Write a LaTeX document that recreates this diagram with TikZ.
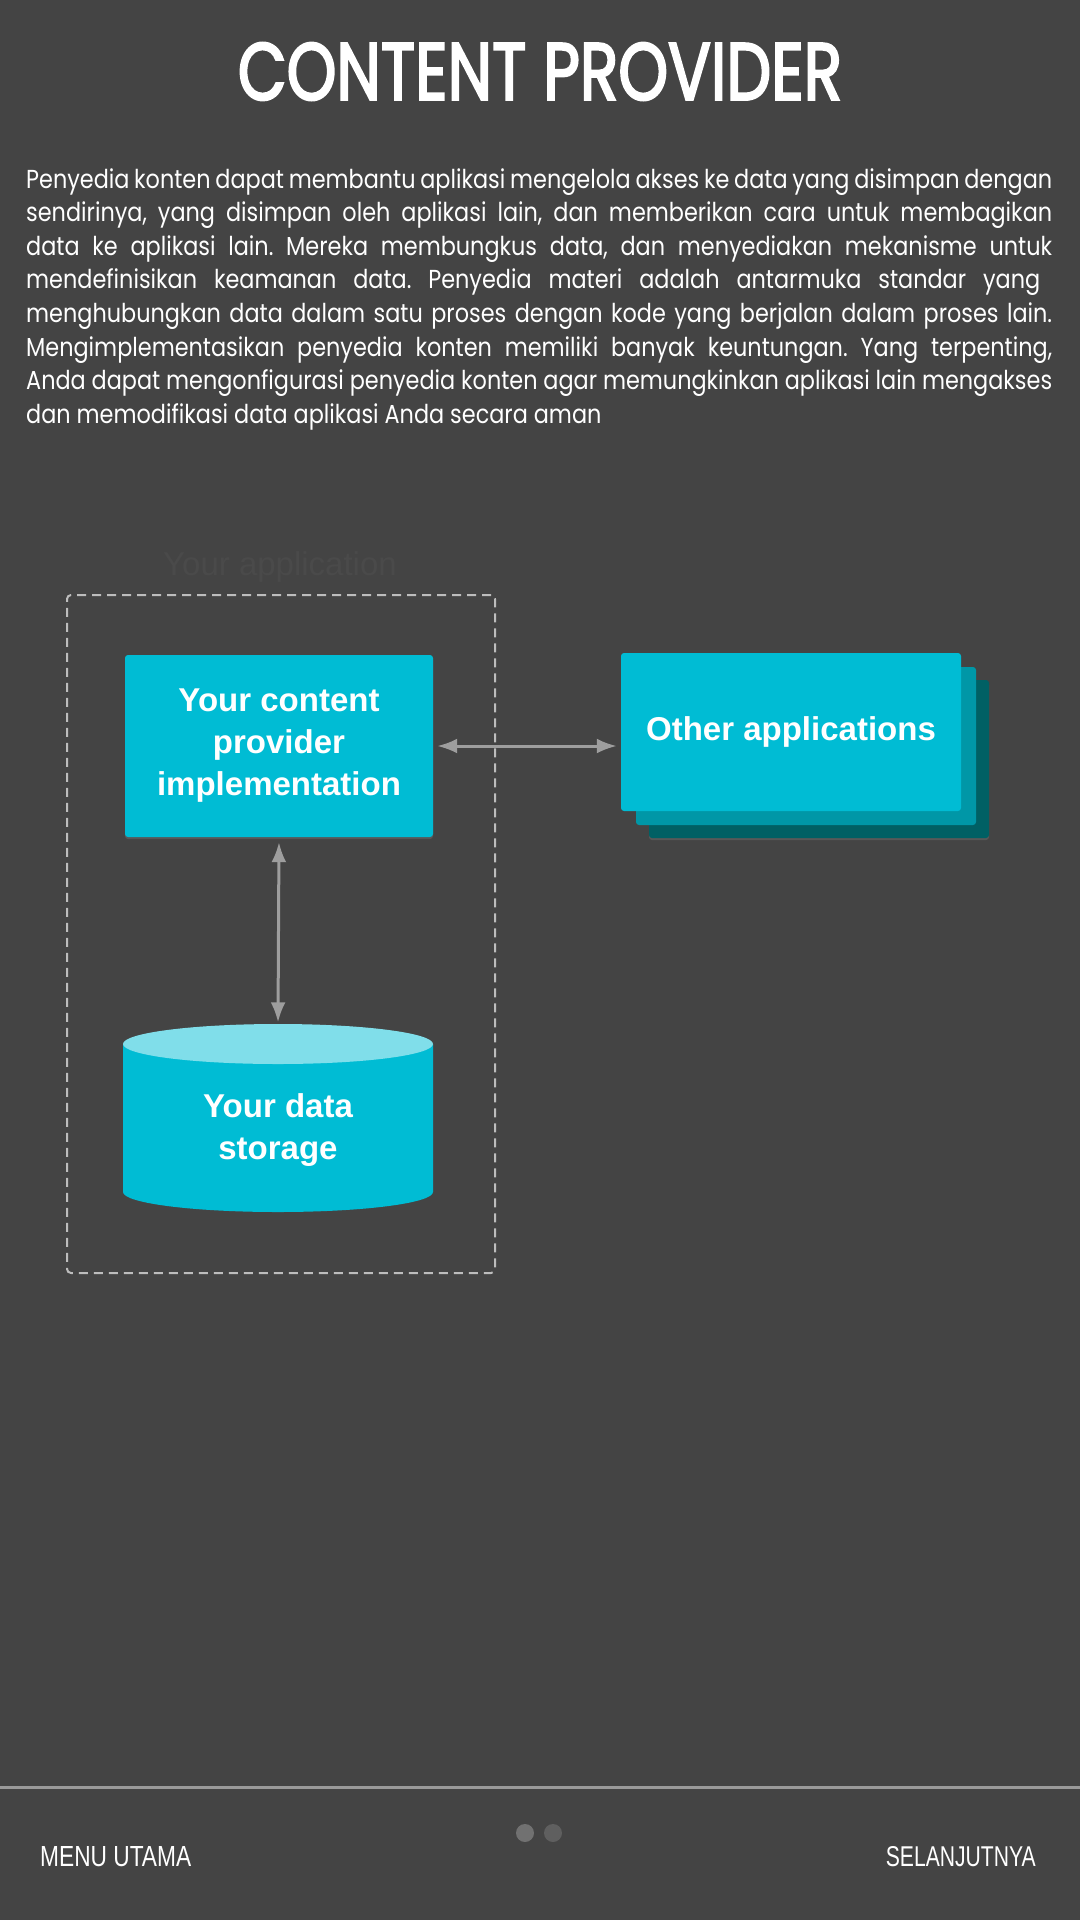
\documentclass[tikz,border=0pt]{standalone}
\usepackage{fontspec}
\usepackage{graphicx}
\usetikzlibrary{arrows.meta,shadows}
\newfontfamily\titlefont[FakeBold=3]{Poppins}
\newfontfamily\parafont[FakeStretch=0.86]{Poppins}
\newfontfamily\boxfont{Liberation Sans}
\definecolor{screenbg}{HTML}{444444}
\definecolor{cyanfront}{HTML}{00BCD4}
\definecolor{cyantop}{HTML}{80DEEA}
\definecolor{tealmid}{HTML}{0097A7}
\definecolor{tealdark}{HTML}{006064}
\definecolor{arrowgray}{HTML}{9E9E9E}
\definecolor{framegray}{HTML}{BDBDBD}
\definecolor{faintgray}{HTML}{4A4A4A}
\definecolor{rulegray}{HTML}{9A9A9A}
\frenchspacing
\tikzset{
  cpbox/.style={rectangle, rounded corners=3pt, fill=cyanfront, text=white, align=center, inner sep=0pt,
    font=\boxfont\bfseries\fontsize{33}{42}\selectfont},
  layerbox/.style={rectangle, rounded corners=3pt, inner sep=0pt, minimum width=340pt, minimum height=158pt},
  link/.style={draw=arrowgray, line width=3pt, {Latex[length=20pt,width=15pt]}-{Latex[length=20pt,width=15pt]}},
  paraline/.style={anchor=base west, inner sep=0pt, text=white, font=\parafont\fontsize{26}{34}\selectfont},
  navtext/.style={inner sep=0pt, text=white, font=\boxfont}
}
\begin{document}
\begin{tikzpicture}[x=1pt, y=-1pt]
\fill[screenbg] (0,0) rectangle (1080,1920);
\useasboundingbox (0,0) rectangle (1080,1920);
% title and text
\node[inner sep=0pt, text=white] (title) at (540,71.5) {\resizebox{604pt}{57pt}{\titlefont CONTENT PROVIDER}};
\node[paraline] (l1) at (26,188) {\makebox[1026pt][s]{Penyedia konten dapat membantu aplikasi mengelola akses ke data yang disimpan dengan}};
\node[paraline] (l2) at (26,221.6) {\makebox[1026pt][s]{sendirinya, yang disimpan oleh aplikasi lain, dan memberikan cara untuk membagikan}};
\node[paraline] (l3) at (26,255.2) {\makebox[1026pt][s]{data ke aplikasi lain. Mereka membungkus data, dan menyediakan mekanisme untuk}};
\node[paraline] (l4) at (26,288.8) {\makebox[1014pt][s]{mendefinisikan keamanan data. Penyedia materi adalah antarmuka standar yang}};
\node[paraline] (l5) at (26,322.4) {\makebox[1026pt][s]{menghubungkan data dalam satu proses dengan kode yang berjalan dalam proses lain.}};
\node[paraline] (l6) at (26,356) {\makebox[1026pt][s]{Mengimplementasikan penyedia konten memiliki banyak keuntungan. Yang terpenting,}};
\node[paraline] (l7) at (26,389.6) {\makebox[1026pt][s]{Anda dapat mengonfigurasi penyedia konten agar memungkinkan aplikasi lain mengakses}};
\node[paraline] (l8) at (26,423.2) {dan memodifikasi data aplikasi Anda secara aman};
% your application
\node[text=faintgray, inner sep=0pt, font=\boxfont\fontsize{33}{40}\selectfont] (applabel) at (280,567) {Your application};
\node[draw=framegray, line width=2pt, dash pattern=on 9pt off 6pt, rounded corners=4pt,
  minimum width=428pt, minimum height=678pt] (app) at (281,934) {};
\node[cpbox, minimum width=308pt, minimum height=182pt,
  drop shadow={opacity=0.35, shadow xshift=0pt, shadow yshift=-2pt}] (cp) at (279,746)
  {Your content\\provider\\implementation};
% data storage cylinder
\node[inner sep=0pt, minimum width=310pt, minimum height=187pt] (store) at (278,1118) {};
\fill[cyanfront] (123,1044) -- (123,1192) arc[start angle=180, end angle=360, x radius=155pt, y radius=20pt] -- (433,1044) -- cycle;
\fill[cyantop] (278,1044) ellipse[x radius=155pt, y radius=20pt];
\node[text=white, align=center, inner sep=0pt, font=\boxfont\bfseries\fontsize{33}{42}\selectfont]
  (storelabel) at ([yshift=-12pt]store.center) {Your data\\storage};
% other applications
\node[layerbox, fill=tealdark, drop shadow={opacity=0.35, shadow xshift=0pt, shadow yshift=-2pt}] (other3) at (819,759) {};
\node[layerbox, fill=tealmid] (other2) at (806,746) {};
\node[cpbox, minimum width=340pt, minimum height=158pt] (other) at (791,732) {Other applications};
% connectors
\draw[link, shorten <=4pt, shorten >=4pt] (cp.east) -- (cp.east -| other.west);
\draw[link, shorten <=5pt, shorten >=2pt] (cp.south) -- (store.north);
% bottom bar
\draw[rulegray, line width=3pt] (0,1787) -- (1080,1787);
\fill[gray!75!screenbg] (525,1833) circle[radius=9pt];
\fill[gray!45!screenbg] (553,1833) circle[radius=9pt];
\node[navtext, anchor=west] (menu) at (40,1857) {\resizebox{151pt}{20pt}{MENU UTAMA}};
\node[navtext, anchor=east] (next) at (1036,1857) {\resizebox{150pt}{20pt}{SELANJUTNYA}};
\end{tikzpicture}
\end{document}
